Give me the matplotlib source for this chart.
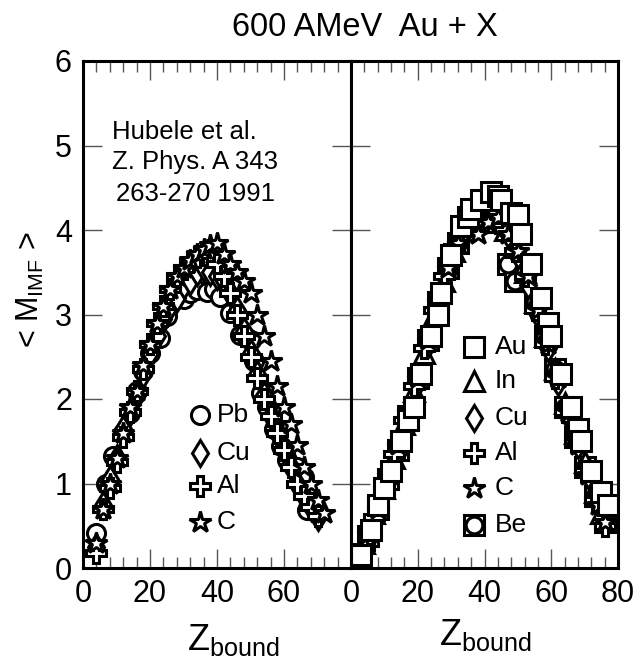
import numpy as np
import matplotlib
matplotlib.use("Agg")
import matplotlib.pyplot as plt
from matplotlib.ticker import MultipleLocator

plt.rcParams['font.family'] = ['Liberation Sans', 'DejaVu Sans']
plt.rcParams['mathtext.fontset'] = 'custom'
plt.rcParams['mathtext.rm'] = 'Liberation Sans'

# ---- left panel: Au + X (Hubele et al.) ----
pb_z = [4, 7, 9, 12, 14, 16, 18, 20, 23, 25, 27, 30, 32, 34, 37, 39, 41, 44, 47, 49, 50, 51, 53, 55, 57, 59, 61,
        64, 66, 67, 70]
pb_m = [0.41, 0.99, 1.32, 1.6, 1.83, 2.09, 2.33, 2.54, 2.72, 2.98, 3.16, 3.18, 3.25, 3.29, 3.27, 3.3, 3.21, 3.02,
        2.76, 2.72, 2.7, 2.45, 2.07, 1.91, 1.64, 1.44, 1.28, 1.2, 1.08, 0.69, 0.67]

cuL_z = [4, 6, 8, 10, 12, 14, 16, 18, 20, 22, 24, 26, 28, 30, 32, 34, 36, 38, 40, 42, 44, 46, 48, 50, 52, 54, 56,
         58, 60, 62, 64, 66, 68, 70]
cuL_m = [0.25, 0.75, 1.05, 1.3, 1.65, 1.85, 2.05, 2.3, 2.55, 2.75, 2.95, 3.1, 3.2, 3.35, 3.4, 3.5, 3.55, 3.5, 3.45,
         3.4, 3.25, 3.05, 2.8, 2.55, 2.3, 2.05, 1.8, 1.6, 1.4, 1.2, 1.0, 0.85, 0.72, 0.6]

alL_z = [4, 6, 8, 10, 12, 14, 16, 18, 20, 22, 24, 26, 28, 30, 32, 34, 36, 38, 40, 42, 44, 46, 48, 50, 52, 54, 56,
         58, 60, 62, 64, 66, 68, 70]
alL_m = [0.18, 0.7, 0.95, 1.25, 1.55, 1.85, 2.1, 2.35, 2.65, 2.9, 3.1, 3.3, 3.45, 3.55, 3.62, 3.68, 3.7, 3.7, 3.6,
         3.45, 3.25, 3.0, 2.75, 2.5, 2.25, 2.0, 1.8, 1.6, 1.4, 1.2, 1.0, 0.85, 0.72, 0.62]

cL_z = [4, 6, 8, 10, 12, 14, 16, 18, 20, 22, 24, 26, 28, 30, 32, 34, 36, 38, 40, 42, 44, 46, 48, 50, 52, 54, 56,
        58, 60, 62, 64, 66, 68, 70, 72]
cL_m = [0.3, 0.7, 1.0, 1.3, 1.6, 1.9, 2.1, 2.4, 2.65, 2.9, 3.1, 3.3, 3.45, 3.55, 3.65, 3.72, 3.78, 3.82, 3.85, 3.72,
        3.6, 3.5, 3.4, 3.25, 3.0, 2.75, 2.45, 2.15, 1.9, 1.7, 1.45, 1.2, 1.0, 0.8, 0.65]

# ---- right panel ----
au_z = [3, 6, 8, 10, 12, 15, 17, 19, 21, 24, 26, 27, 30, 33, 35, 36, 39, 42, 44, 45, 48, 50, 51, 54, 57, 59, 60,
        63, 66, 68, 69, 72, 75, 77]
au_m = [0.15, 0.45, 0.75, 0.95, 1.15, 1.5, 1.75, 1.9, 2.3, 2.75, 3.0, 3.25, 3.7, 4.05, 4.15, 4.25, 4.35, 4.45, 4.4,
        4.35, 4.2, 4.18, 3.95, 3.6, 3.2, 2.9, 2.75, 2.3, 1.9, 1.65, 1.5, 1.15, 0.9, 0.75]

in_z = [4, 7, 10, 13, 16, 19, 22, 25, 28, 31, 34, 37, 40, 43, 46, 49, 52, 55, 58, 61, 64, 67, 70, 73, 75]
in_m = [0.3, 0.65, 0.95, 1.3, 1.7, 2.1, 2.55, 3.0, 3.4, 3.75, 4.0, 4.15, 4.2, 4.15, 4.0, 3.8, 3.5, 3.15, 2.75, 2.35,
        1.95, 1.6, 1.25, 0.9, 0.65]

cuR_z = [5, 8, 11, 14, 17, 20, 23, 26, 29, 32, 35, 38, 41, 44, 47, 50, 53, 56, 59, 62, 65, 68, 71, 74]
cuR_m = [0.35, 0.7, 1.05, 1.4, 1.8, 2.2, 2.65, 3.1, 3.5, 3.85, 4.05, 4.15, 4.2, 4.1, 3.95, 3.7, 3.35, 3.0, 2.6, 2.2,
         1.8, 1.45, 1.1, 0.8]

alR_z = [4, 7, 10, 13, 16, 19, 22, 25, 28, 31, 34, 37, 40, 43, 46, 49, 52, 55, 58, 61, 64, 67, 70, 73, 76]
alR_m = [0.25, 0.6, 0.95, 1.35, 1.75, 2.15, 2.6, 3.05, 3.45, 3.8, 4.05, 4.2, 4.25, 4.2, 4.0, 3.75, 3.45, 3.05, 2.65,
         2.25, 1.85, 1.5, 1.15, 0.8, 0.5]

cR_z = [5, 8, 11, 14, 17, 20, 23, 26, 29, 32, 35, 38, 41, 44, 47, 50, 53, 56, 59, 62, 65, 68, 71, 74, 76]
cR_m = [0.4, 0.7, 1.1, 1.45, 1.85, 2.25, 2.7, 3.15, 3.55, 3.85, 4.05, 3.95, 4.1, 4.15, 3.95, 3.75, 3.45, 3.05, 2.65,
        2.25, 1.85, 1.45, 1.1, 0.75, 0.55]

be_z = [5, 8, 11, 14, 17, 20, 23, 26, 29, 32, 35, 38, 41, 44, 47, 49, 52, 55, 58, 61, 64, 67, 70, 73, 76]
be_m = [0.38, 0.7, 1.05, 1.4, 1.8, 2.25, 2.7, 3.15, 3.55, 3.85, 4.05, 4.15, 4.2, 4.1, 3.6, 3.4, 3.5, 3.15, 2.75,
        2.35, 1.9, 1.55, 1.2, 0.85, 0.55]

left_labels = ['Pb', 'Cu', 'Al', 'C']
right_labels = ['Au', 'In', 'Cu', 'Al', 'C', 'Be']

mew = 2.2
sty = {
    'o': dict(marker='o', ms=13),
    'd': dict(marker='d', ms=13),
    'P': dict(marker='P', ms=14),
    '*': dict(marker='*', ms=16),
    's': dict(marker='s', ms=15),
    '^': dict(marker='^', ms=15),
}


def pts(ax, x, y, m, **kw):
    kw2 = dict(sty[m])
    kw2.update(kw)
    ax.plot(x, y, ls='none', mfc='white', mec='black', mew=mew, **kw2)


def be(ax, x, y):
    pts(ax, x, y, 's', ms=14)
    ax.plot(x, y, ls='none', marker='o', ms=12, mfc='white', mec='black', mew=2.2)


fig = plt.figure(figsize=(6.36, 6.66), dpi=100)
axL = fig.add_axes([83 / 636, 98 / 666, 268 / 636, 507 / 666])
axR = fig.add_axes([351 / 636, 98 / 666, 267 / 636, 507 / 666])

pts(axL, pb_z, pb_m, 'o')
pts(axL, cuL_z, cuL_m, 'd')
pts(axL, alL_z, alL_m, 'P')
pts(axL, cL_z, cL_m, '*')

be(axR, be_z, be_m)
pts(axR, in_z, in_m, '^')
pts(axR, cuR_z, cuR_m, 'd')
pts(axR, alR_z, alR_m, 'P')
pts(axR, cR_z, cR_m, '*')
pts(axR, au_z, au_m, 's')

# legends drawn as markers + text
for lab, m, yy in zip(left_labels, ['o', 'd', 'P', '*'], [1.81, 1.36, 0.97, 0.55]):
    pts(axL, [34.9], [yy], m)
    axL.text(40.0, yy, lab, fontsize=19, va='center', ha='left')

for lab, m, yy in zip(right_labels, ['s', '^', 'd', 'P', '*', 'B'], [2.62, 2.21, 1.78, 1.36, 0.95, 0.51]):
    if m == 'B':
        be(axR, [37], [yy])
    else:
        pts(axR, [37], [yy], m)
    axR.text(43.0, yy, lab, fontsize=19, va='center', ha='left')

axL.text(8.7, 5.16, 'Hubele et al.', fontsize=18.5, va='center')
axL.text(8.7, 4.80, 'Z. Phys. A 343', fontsize=18.5, va='center')
axL.text(10.0, 4.43, '263-270 1991', fontsize=18.5, va='center')

for ax in (axL, axR):
    ax.set_xlim(0, 80)
    ax.set_ylim(0, 6)
    ax.xaxis.set_major_locator(MultipleLocator(20))
    ax.xaxis.set_minor_locator(MultipleLocator(4))
    ax.yaxis.set_major_locator(MultipleLocator(1))
    ax.tick_params(which='both', direction='in', top=True, right=True, labelsize=22, color='#555555')
    ax.tick_params(which='major', length=14, width=1.0, pad=8)
    ax.tick_params(which='minor', length=8, width=1.0)
    for s in ax.spines.values():
        s.set_linewidth(2.2)

axL.set_xticks([0, 20, 40, 60])
axL.set_xticklabels(['0', '20', '40', '60'])
axR.tick_params(labelleft=False)

fig.text(365 / 636, 1 - 28 / 666, '600 AMeV  Au + X', fontsize=23.5, ha='center', va='center')
fig.text(233 / 636, 1 - 640 / 666, r'$\mathregular{Z_{bound}}$', fontsize=26, ha='center', va='center')
fig.text(485 / 636, 1 - 635 / 666, r'$\mathregular{Z_{bound}}$', fontsize=26, ha='center', va='center')
fig.text(30 / 636, 1 - 290 / 666, r'< $\mathregular{M_{IMF}}$ >', fontsize=22, rotation=90,
         ha='center', va='center')

fig.savefig('out.png', dpi=100)
